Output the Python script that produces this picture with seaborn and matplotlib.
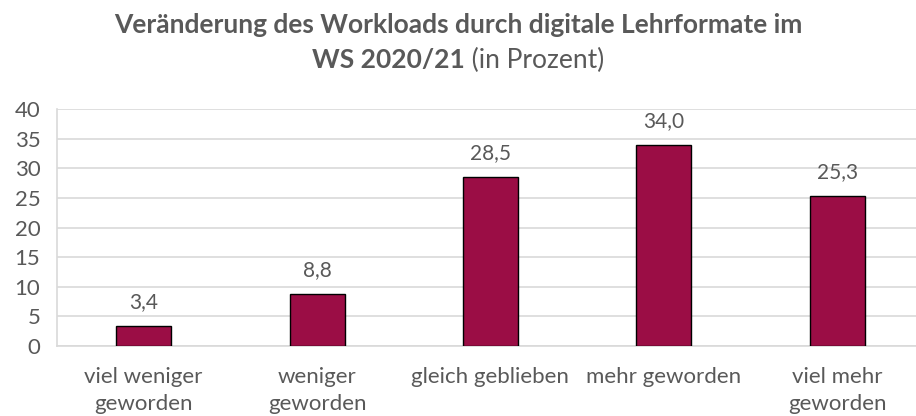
import numpy as np
import pandas as pd
import matplotlib
matplotlib.use("Agg")
import matplotlib.pyplot as plt
import seaborn as sns

categories = ["viel weniger\ngeworden", "weniger\ngeworden", "gleich geblieben",
              "mehr geworden", "viel mehr\ngeworden"]
values = [3.4, 8.8, 28.5, 34.0, 25.3]
yticks = [0, 5, 10, 15, 20, 25, 30, 35, 40]

bar_color = "#9B0D45"
text_color = "#595959"
grid_color = "#D9D9D9"

sns.set_theme(style="white")
plt.rcParams['font.family'] = ['Lato', 'DejaVu Sans']

df = pd.DataFrame({"Kategorie": categories, "Prozent": values})

fig = plt.figure(figsize=(9.16, 4.16), dpi=100)
ax = fig.add_axes([57 / 916, (416 - 346) / 416, (916 - 57) / 916, (346 - 109) / 416])

sns.barplot(data=df, x="Kategorie", y="Prozent", color=bar_color, width=0.317,
            edgecolor="black", linewidth=1.0, saturation=1, ax=ax, zorder=3)

ax.set_xlim(-0.5, 4.455)
ax.set_ylim(0, 40)
ax.set_yticks(yticks)
ax.yaxis.grid(True, color=grid_color, linewidth=1.2, zorder=0)
ax.set_axisbelow(True)
for s in ["top", "right"]:
    ax.spines[s].set_visible(False)
ax.spines["left"].set_color(grid_color)
ax.spines["bottom"].set_color(grid_color)
ax.spines["left"].set_linewidth(1.2)
ax.spines["bottom"].set_linewidth(1.2)
ax.set_xlabel("")
ax.set_ylabel("")
ax.tick_params(axis="both", length=0, labelsize=16, colors=text_color)
ax.tick_params(axis="y", pad=12)
ax.tick_params(axis="x", pad=15)
for lbl in ax.get_xticklabels():
    lbl.set_linespacing(1.45)

for i, v in enumerate(values):
    ax.annotate(f"{v:.1f}".replace(".", ","), (i, v), xytext=(0, 17),
                textcoords="offset points", ha="center", va="center",
                fontsize=15, color=text_color)

# Titel
fig.text(0.5, 1 - 25 / 416, "Veränderung des Workloads durch digitale Lehrformate im",
         ha="center", va="center", fontsize=19, fontweight="bold", color=text_color)
t1 = fig.text(0, 1 - 60 / 416, "WS 2020/21", ha="left", va="center",
              fontsize=19, fontweight="bold", color=text_color)
t2 = fig.text(0, 1 - 60 / 416, " (in Prozent)", ha="left", va="center",
              fontsize=19, color=text_color)
fig.canvas.draw()
r = fig.canvas.get_renderer()
w1 = t1.get_window_extent(r).width
w2 = t2.get_window_extent(r).width
x0 = (fig.bbox.width - w1 - w2) / 2
t1.set_x(x0 / fig.bbox.width)
t2.set_x((x0 + w1) / fig.bbox.width)

fig.savefig("out.png", dpi=100)
